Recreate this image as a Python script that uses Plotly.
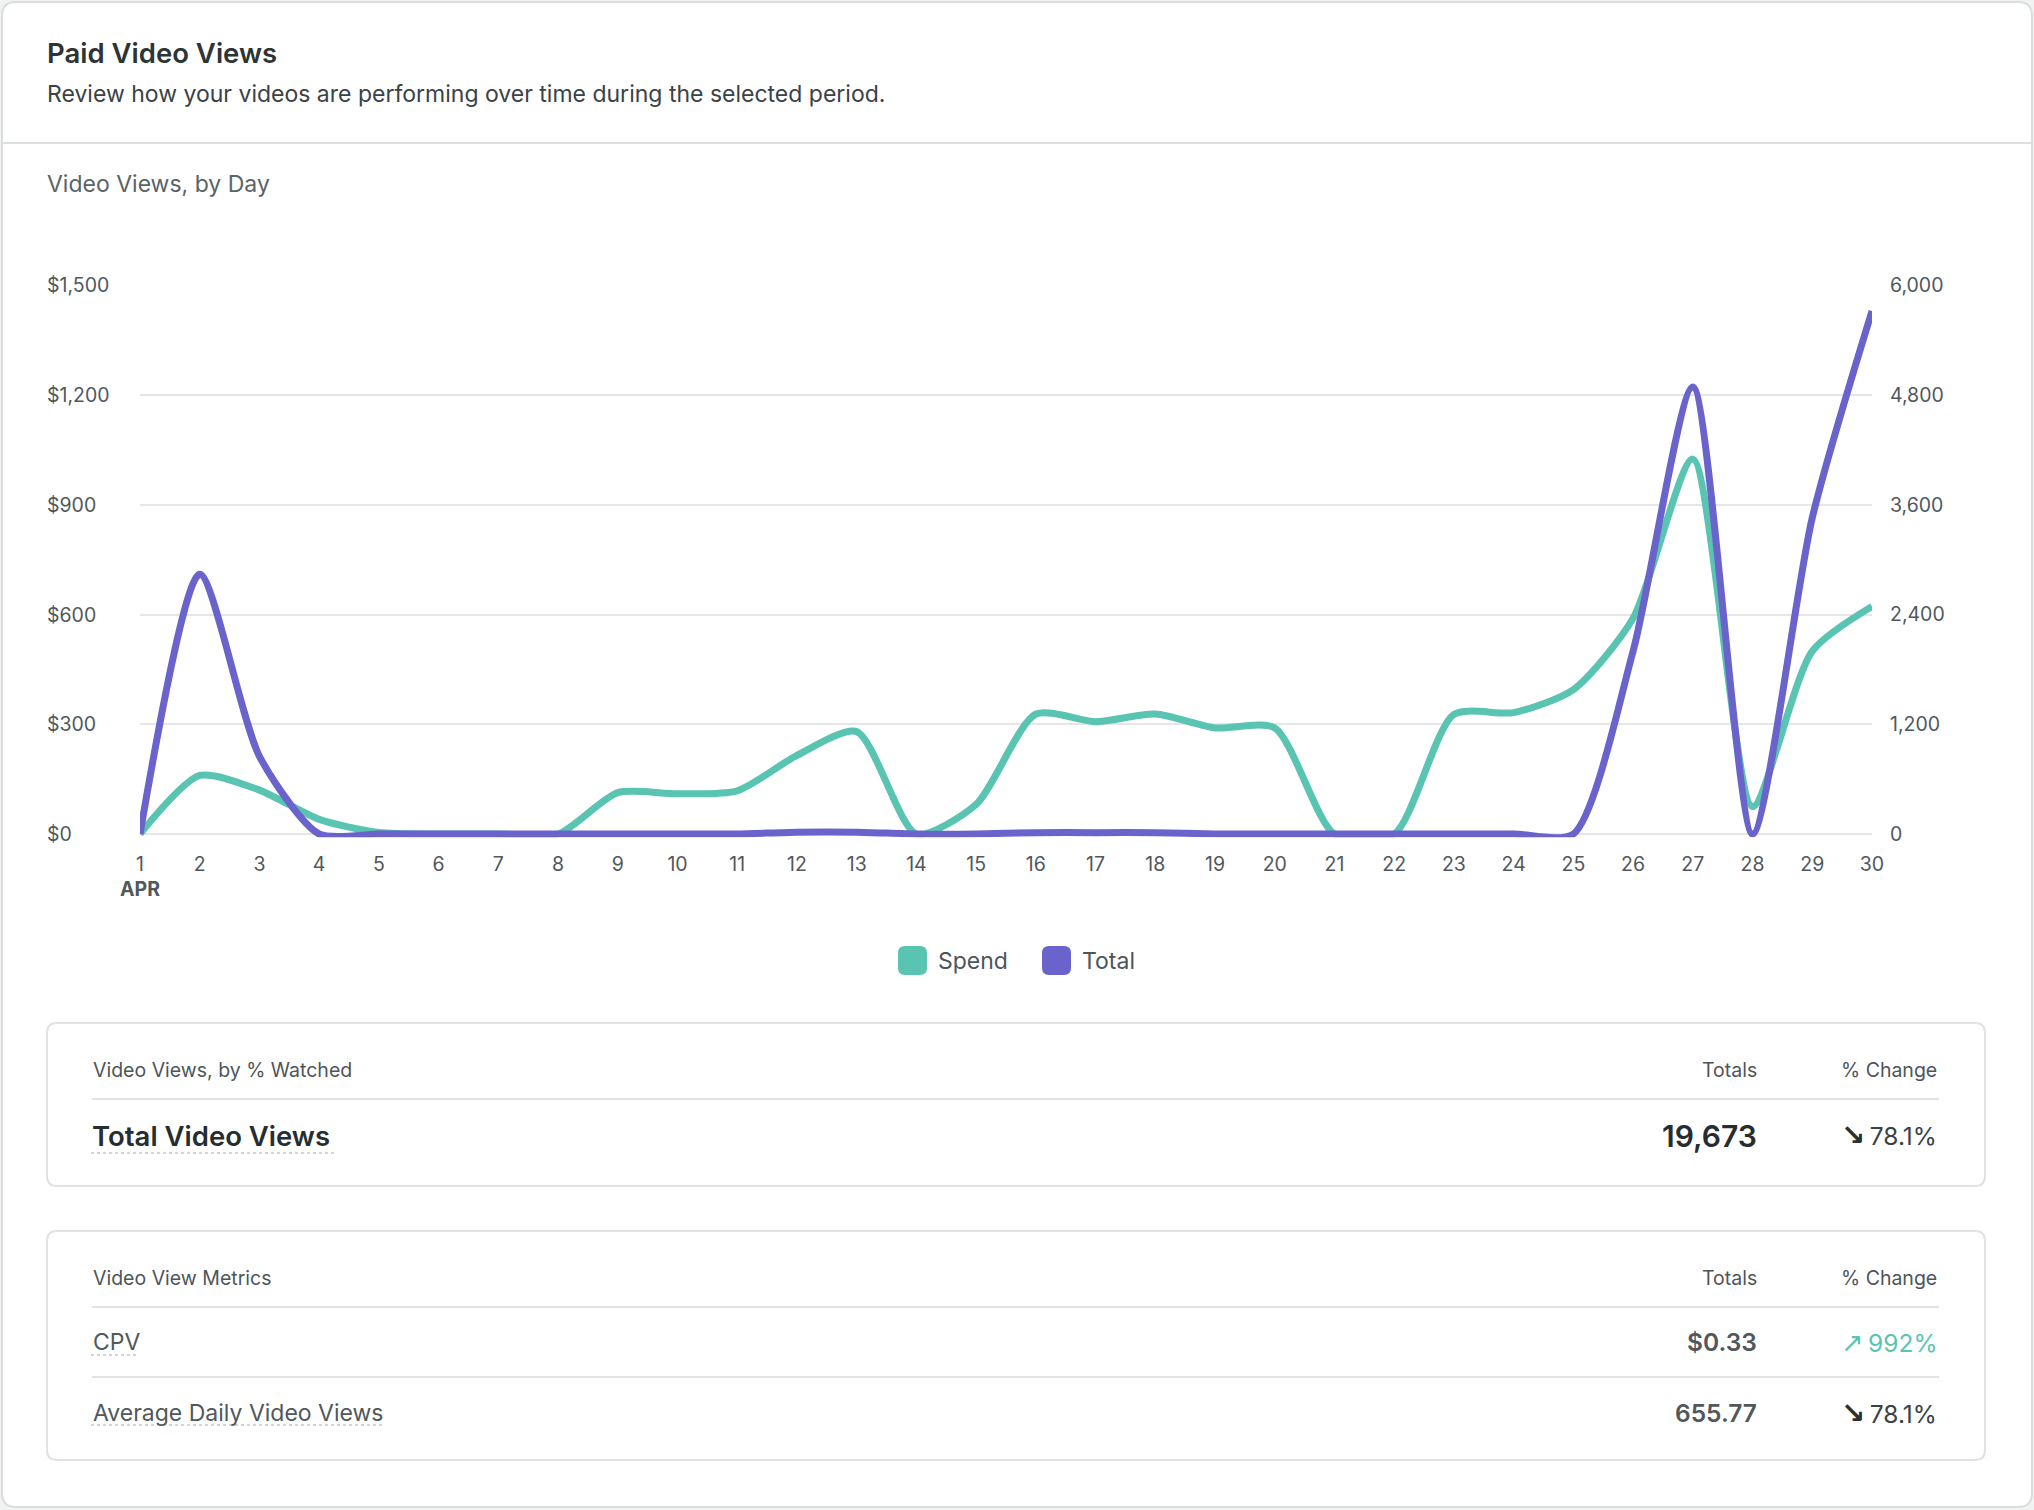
import plotly.graph_objects as go

# ---------------- data ----------------
days = list(range(1, 31))
spend = [0, 160, 120, 40, 4, 0, 0, 0, 113, 110, 118, 215, 280, 0, 81,
         328, 307, 328, 290, 290, 0, 0, 327, 332, 395, 590, 1025, 75, 500, 622]
total_views = [0, 2840, 850, 0, 0, 0, 0, 0, 0, 0, 0, 20, 20, 0, 0,
               15, 15, 15, 0, 0, 0, 0, 0, 0, 0, 2000, 4890, 0, 3460, 5720]
series_names = ["Spend", "Total"]
series_colors = ["#5ac4b2", "#6b63cc"]

spend_ticks = [0, 300, 600, 900, 1200, 1500]
spend_tick_labels = ["$0", "$300", "$600", "$900", "$1,200", "$1,500"]
views_ticks = [0, 1200, 2400, 3600, 4800, 6000]
views_tick_labels = ["0", "1,200", "2,400", "3,600", "4,800", "6,000"]
day_tick_labels = ["1<br><b>APR</b>"] + [str(d) for d in days[1:]]

table_headers = ["Totals", "% Change"]
watched_rows = [("Total Video Views", "19,673", "↘", "78.1%")]
metric_rows = [("CPV", "$0.33", "↗", "992%"), ("Average Daily Video Views", "655.77", "↘", "78.1%")]

# ---------------- geometry helpers ----------------
W, H = 2034, 1510
FONT = "Inter, Roboto, 'Noto Sans', sans-serif"


def X(x):
    return x / W


def Y(y):
    return 1 - y / H


def rrect(x0, y0, x1, y1, r):
    return (f"M {X(x0 + r)},{Y(y0)} L {X(x1 - r)},{Y(y0)} Q {X(x1)},{Y(y0)} {X(x1)},{Y(y0 + r)} "
            f"L {X(x1)},{Y(y1 - r)} Q {X(x1)},{Y(y1)} {X(x1 - r)},{Y(y1)} "
            f"L {X(x0 + r)},{Y(y1)} Q {X(x0)},{Y(y1)} {X(x0)},{Y(y1 - r)} "
            f"L {X(x0)},{Y(y0 + r)} Q {X(x0)},{Y(y0)} {X(x0 + r)},{Y(y0)} Z")


fig = go.Figure()

fig.add_trace(go.Scatter(x=days, y=spend, name=series_names[0], mode="lines",
                         line=dict(color=series_colors[0], width=7, shape="spline", smoothing=0.7),
                         yaxis="y", showlegend=False))
fig.add_trace(go.Scatter(x=days, y=total_views, name=series_names[1], mode="lines",
                         line=dict(color=series_colors[1], width=7, shape="spline", smoothing=0.7),
                         yaxis="y2", showlegend=False))

# plot area geometry (pixels): x 140..1872, y 0-line at 834, 1500-line at 285.4
y_lo_left = -9
y_lo_right = -36
px_per_unit = (834 - 285.4) / 1500
bottom_px = 834 - y_lo_left * px_per_unit
ydom = [Y(bottom_px), Y(285.4)]
xdom = [X(140), X(1872)]

tick_font = dict(family=FONT, size=19.5, color="#50585c")

fig.update_layout(
    width=W, height=H,
    margin=dict(l=0, r=0, t=0, b=0, pad=0, autoexpand=False),
    paper_bgcolor="#f1f3f3",
    plot_bgcolor="rgba(0,0,0,0)",
    hovermode=False,
    showlegend=False,
    font=dict(family=FONT, color="#3a4245"),
    xaxis=dict(domain=xdom, range=[1, 30], tickvals=days, ticktext=day_tick_labels,
               showgrid=False, zeroline=False, showline=False, ticks="",
               tickfont=tick_font, ticklabelstandoff=13, fixedrange=True, automargin=False),
    yaxis=dict(domain=ydom, range=[y_lo_left, 1500], tickvals=spend_ticks,
               showticklabels=False, showgrid=True, gridcolor="#e4e6e7", gridwidth=2,
               zeroline=False, showline=False, ticks="", fixedrange=True, automargin=False),
    yaxis2=dict(overlaying="y", side="right", anchor="x", range=[y_lo_right, 6000],
                tickvals=views_ticks, ticktext=views_tick_labels, showgrid=False,
                zeroline=False, showline=False, ticks="", tickfont=tick_font,
                ticklabelstandoff=17, fixedrange=True, automargin=False),
)

shapes = []
# outer card
shapes.append(dict(type="path", xref="paper", yref="paper", path=rrect(2, 2, 2032, 1507, 14),
                   fillcolor="white", line=dict(color="#dadddf", width=2), layer="below"))
# header divider
shapes.append(dict(type="line", xref="paper", yref="paper", x0=X(3), x1=X(2031), y0=Y(143), y1=Y(143),
                   line=dict(color="#dcdfe0", width=2), layer="below"))
# table cards
shapes.append(dict(type="path", xref="paper", yref="paper", path=rrect(47, 1023, 1985, 1186, 10),
                   fillcolor="white", line=dict(color="#dfe2e3", width=2), layer="below"))
shapes.append(dict(type="path", xref="paper", yref="paper", path=rrect(47, 1231, 1985, 1460, 10),
                   fillcolor="white", line=dict(color="#dfe2e3", width=2), layer="below"))
for yy in (1099, 1307, 1377):
    shapes.append(dict(type="line", xref="paper", yref="paper", x0=X(92), x1=X(1939), y0=Y(yy), y1=Y(yy),
                       line=dict(color="#e1e3e4", width=2), layer="below"))
# dotted underlines
for (x1, yy) in ((334, 1153), (139, 1355), (384, 1425)):
    shapes.append(dict(type="line", xref="paper", yref="paper", x0=X(91), x1=X(x1), y0=Y(yy), y1=Y(yy),
                       line=dict(color="#c3c8ca", width=1.5, dash="dot"), layer="below"))
# legend swatches
for i, x0 in enumerate((898, 1042)):
    shapes.append(dict(type="path", xref="paper", yref="paper", path=rrect(x0, 946, x0 + 29, 975, 7),
                       fillcolor=series_colors[i], line=dict(width=0), layer="above"))

fig.update_layout(shapes=shapes)

ann = []


def text(x, y, s, size, color, anchor="left", weight=None):
    f = dict(family=FONT, size=size, color=color)
    if weight:
        f["weight"] = weight
    ann.append(dict(xref="paper", yref="paper", x=X(x), y=Y(y), text=s, showarrow=False,
                    xanchor=anchor, yanchor="middle", font=f))


text(45, 53, "Paid Video Views", 27.5, "#2d3436", weight=600)
text(45, 94, "Review how your videos are performing over time during the selected period.", 23, "#3a4245")
text(45, 184, "Video Views, by Day", 23, "#5b6367")

# left axis labels, positioned with the y axis scale, left aligned
for v, lab in zip(spend_ticks, spend_tick_labels):
    ann.append(dict(xref="paper", yref="y", x=X(45), y=v, text=lab, showarrow=False,
                    xanchor="left", yanchor="middle", font=tick_font))

# legend labels
text(936, 961, series_names[0], 23, "#4d5559")
text(1080, 961, series_names[1], 23, "#4d5559")


def change_text(arrow, val, up):
    if up:
        style = "font-family:DejaVu Sans;font-size:27px"
    else:
        style = "font-family:DejaVu Sans;font-weight:bold;font-size:29px;fill:#2a3033"
    return f'<span style="{style}">{arrow}</span>\u2009{val}'


# table 1
text(91, 1070, "Video Views, by % Watched", 19.5, "#4d5559")
text(1759, 1070, table_headers[0], 19.5, "#4d5559", anchor="right")
text(1939, 1070, table_headers[1], 19.5, "#4d5559", anchor="right")
for (lab, tot, arr, chg) in watched_rows:
    text(90, 1136, lab, 27.5, "#262d30", weight=600)
    text(1759, 1136, tot, 30, "#262d30", anchor="right", weight=600)
    text(1939, 1135, change_text(arr, chg, False), 24.5, "#3a4245", anchor="right")

# table 2
text(91, 1278, "Video View Metrics", 19.5, "#4d5559")
text(1759, 1278, table_headers[0], 19.5, "#4d5559", anchor="right")
text(1939, 1278, table_headers[1], 19.5, "#4d5559", anchor="right")
for (lab, tot, arr, chg), yy in zip(metric_rows, (1342, 1413)):
    text(91, yy, lab, 23, "#50585c")
    text(1759, yy, tot, 24.5, "#50585c", anchor="right", weight=600)
    up = arr == "↗"
    col = series_colors[0] if up else "#3a4245"
    text(1939, yy, change_text(arr, chg, up), 24.5, col, anchor="right")

fig.update_layout(annotations=ann)

fig.write_html("out.html")
